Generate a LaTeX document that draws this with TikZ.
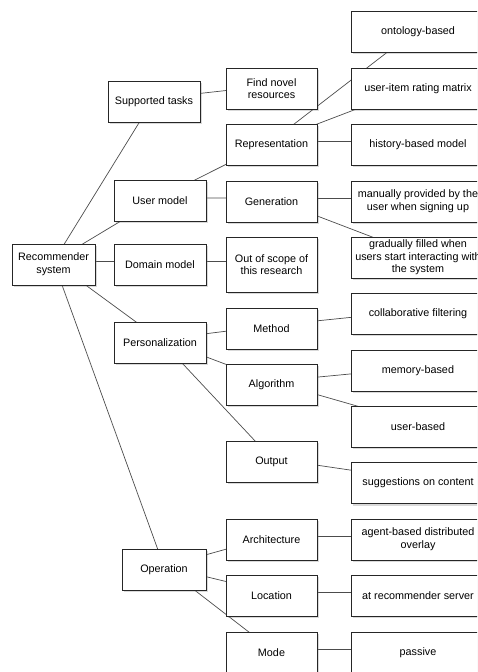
\documentclass[tikz,border=0pt]{standalone}
\usepackage{fontspec}
\setmainfont{Liberation Sans}
\usetikzlibrary{positioning, shadows, backgrounds}

\begin{document}
\begin{tikzpicture}[
    x=1pt, y=-1pt,
    box/.style={draw=black!85, fill=white, line width=0.7pt, align=center,
                inner sep=0pt, minimum height=41pt,
                font=\fontsize{10.8}{12.7}\selectfont,
                drop shadow={shadow xshift=1.6pt, shadow yshift=-2.4pt, opacity=0.3}},
    root/.style={box, minimum width=83pt},
    aspect/.style={box, minimum width=92pt},
    facet/.style={box, minimum width=91pt},
    choice/.style={box, minimum width=134pt},
    link/.style={draw=black!70, line width=0.7pt},
  ]
    \useasboundingbox (0,0) rectangle (477,672);
    \clip (0,0) rectangle (477,672);

    % Root
    \node[root] (rs) at (53.5,264.5) {Recommender\\system};

    % Aspects
    \node[aspect] (st) at (154,101.5) {Supported tasks};
    \node[aspect] (um) at (160,200.5) {User model};
    \node[aspect] (dm) at (160,264.5) {Domain model};
    \node[aspect] (pers) at (160,342.5) {Personalization};
    \node[aspect, minimum width=84pt] (op) at (164,569.5) {Operation};

    % Facets
    \node[facet] (fnr) at (271.5,88.5) {Find novel\\resources};
    \node[facet] (rep) at (271.5,144.5) {Representation};
    \node[facet] (gen) at (271.5,201.5) {Generation};
    \node[facet, minimum height=55pt] (oos) at (271.5,264.5) {Out of scope of\\this research};
    \node[facet] (meth) at (271.5,328.5) {Method};
    \node[facet] (alg) at (271.5,384.5) {Algorithm};
    \node[facet] (out) at (271.5,461.5) {Output};
    \node[facet] (arch) at (271.5,539.5) {Architecture};
    \node[facet] (loc) at (271.5,595.5) {Location};
    \node[facet] (mode) at (271.5,652.5) {Mode};

    % Choices
    \node[choice] (onto) at (418,31.5) {ontology-based};
    \node[choice] (uirm) at (418,88.5) {user-item rating matrix};
    \node[choice] (hbm) at (418,144.5) {history-based model};
    \node[choice] (man) at (418,201.5) {manually provided by the\\user when signing up};
    \node[choice] (grad) at (418,257.5) {gradually filled when\\users start interacting with\\the system};
    \node[choice] (cf) at (418,313.5) {collaborative filtering};
    \node[choice] (mem) at (418,370.5) {memory-based};
    \node[choice] (ub) at (418,426.5) {user-based};
    \node[choice] (sugg) at (418,483) {suggestions on content};
    \node[choice] (agent) at (418,539.5) {agent-based distributed\\overlay};
    \node[choice] (atrs) at (418,595.5) {at recommender server};
    \node[choice] (pas) at (418,652.5) {passive};

    % Links (centre to centre, hidden under the boxes)
    \begin{scope}[on background layer]
      \draw[link] ([yshift=3pt]rs.center) -- ([yshift=3pt]st.center);
      \draw[link] ([yshift=3pt]rs.center) -- ([yshift=3pt]um.center);
      \draw[link] ([yshift=3pt]rs.center) -- ([yshift=3pt]dm.center);
      \draw[link] ([yshift=3pt]rs.center) -- ([yshift=3pt]pers.center);
      \draw[link] ([yshift=3pt]rs.center) -- ([yshift=3pt]op.center);
      \draw[link] ([yshift=3pt]st.center) -- ([yshift=3pt]fnr.center);
      \draw[link] ([yshift=3pt]um.center) -- ([yshift=3pt]rep.center);
      \draw[link] ([yshift=3pt]um.center) -- ([yshift=3pt]gen.center);
      \draw[link] ([yshift=3pt]dm.center) -- ([yshift=3pt]oos.center);
      \draw[link] ([yshift=3pt]pers.center) -- ([yshift=3pt]meth.center);
      \draw[link] ([yshift=3pt]pers.center) -- ([yshift=3pt]alg.center);
      \draw[link] ([yshift=3pt]pers.center) -- ([yshift=3pt]out.center);
      \draw[link] ([yshift=3pt]op.center) -- ([yshift=3pt]arch.center);
      \draw[link] ([yshift=3pt]op.center) -- ([yshift=3pt]loc.center);
      \draw[link] ([yshift=3pt]op.center) -- ([yshift=3pt]mode.center);
      \draw[link] ([yshift=3pt]rep.center) -- ([yshift=3pt]onto.center);
      \draw[link] ([yshift=3pt]rep.center) -- ([yshift=3pt]uirm.center);
      \draw[link] ([yshift=3pt]rep.center) -- ([yshift=3pt]hbm.center);
      \draw[link] ([yshift=3pt]gen.center) -- ([yshift=3pt]man.center);
      \draw[link] ([yshift=3pt]gen.center) -- ([yshift=3pt]grad.center);
      \draw[link] ([yshift=3pt]meth.center) -- ([yshift=3pt]cf.center);
      \draw[link] ([yshift=3pt]alg.center) -- ([yshift=3pt]mem.center);
      \draw[link] ([yshift=3pt]alg.center) -- ([yshift=3pt]ub.center);
      \draw[link] ([yshift=3pt]out.center) -- ([yshift=3pt]sugg.center);
      \draw[link] ([yshift=3pt]arch.center) -- ([yshift=3pt]agent.center);
      \draw[link] ([yshift=3pt]loc.center) -- ([yshift=3pt]atrs.center);
      \draw[link] ([yshift=3pt]mode.center) -- ([yshift=3pt]pas.center);
    \end{scope}
  \end{tikzpicture}
\end{document}
